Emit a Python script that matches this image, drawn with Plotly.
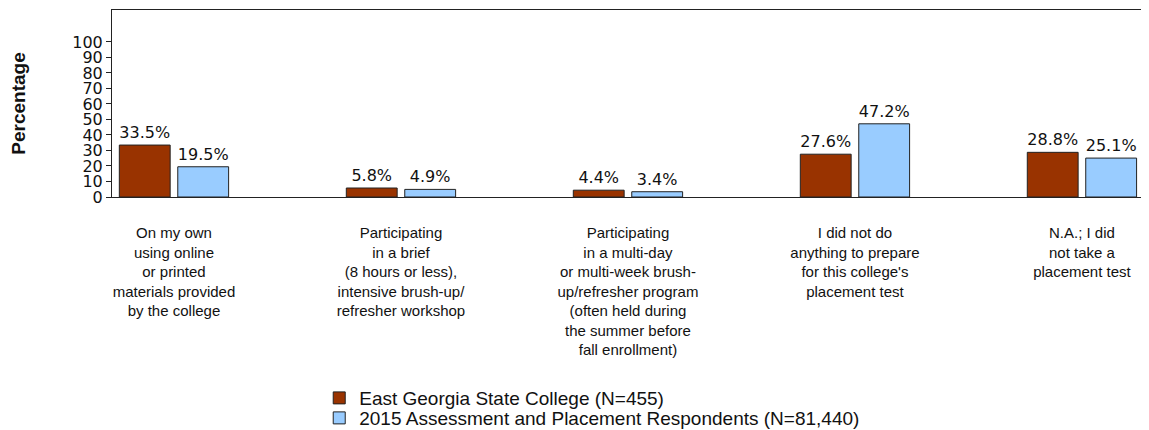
import plotly.graph_objects as go

categories = [
    "On my own<br>using online<br>or printed<br>materials provided<br>by the college",
    "Participating<br>in a brief<br>(8 hours or less),<br>intensive brush-up/<br>refresher workshop",
    "Participating<br>in a multi-day<br>or multi-week brush-<br>up/refresher program<br>(often held during<br>the summer before<br>fall enrollment)",
    "I did not do<br>anything to prepare<br>for this college's<br>placement test",
    "N.A.; I did<br>not take a<br>placement test",
]
college = [33.5, 5.8, 4.4, 27.6, 28.8]
national = [19.5, 4.9, 3.4, 47.2, 25.1]
series_names = ["East Georgia State College (N=455)",
                "2015 Assessment and Placement Respondents (N=81,440)"]
yticks = [0, 10, 20, 30, 40, 50, 60, 70, 80, 90, 100]

idx = list(range(len(categories)))
label_font = dict(family="DejaVu Sans", size=16, color="#111")
legend_font = dict(family="Liberation Sans, Arial", size=19, color="#111")

fig = go.Figure()
fig.add_trace(go.Bar(
    x=idx, y=college, name=series_names[0], legend="legend",
    marker=dict(color="#993300", line=dict(color="#222", width=1)),
    text=[f"{v}%" for v in college], textposition="outside",
    textfont=label_font, cliponaxis=False,
))
fig.add_trace(go.Bar(
    x=idx, y=national, name=series_names[1], legend="legend2",
    marker=dict(color="#99CCFF", line=dict(color="#222", width=1)),
    text=[f"{v}%" for v in national], textposition="outside",
    textfont=label_font, cliponaxis=False,
))

fig.update_layout(
    width=1141, height=422,
    margin=dict(l=104, r=6, t=2, b=233, autoexpand=False),
    paper_bgcolor="white", plot_bgcolor="white",
    barmode="group", bargap=0.485, bargroupgap=0.13,
    showlegend=True,
    legend=dict(x=0.201, y=-1.075, xanchor="left", yanchor="middle",
                font=legend_font, itemwidth=30, bgcolor="rgba(0,0,0,0)"),
    legend2=dict(x=0.201, y=-1.182, xanchor="left", yanchor="middle",
                 font=legend_font, itemwidth=30, bgcolor="rgba(0,0,0,0)"),
    xaxis=dict(
        tickmode="array", tickvals=idx, ticktext=categories,
        range=[-0.273, 4.269], showgrid=False, ticks="",
        tickfont=dict(family="Liberation Sans, Arial", size=15, color="#111"),
        showline=True, linecolor="#222", linewidth=1, mirror=True,
        ticklabelstandoff=22, zeroline=False,
    ),
    yaxis=dict(
        tickmode="array", tickvals=yticks, range=[0, 120.6],
        showgrid=False, ticks="outside", ticklen=5, tickcolor="#222",
        tickfont=dict(family="DejaVu Sans", size=16, color="#111"),
        showline=True, linecolor="#222", linewidth=1, mirror=True,
        zeroline=False,
        title=dict(text="<b>Percentage</b>", standoff=41,
                   font=dict(family="Liberation Sans, Arial", size=19, color="#111")),
    ),
)

fig.write_html("out.html")
